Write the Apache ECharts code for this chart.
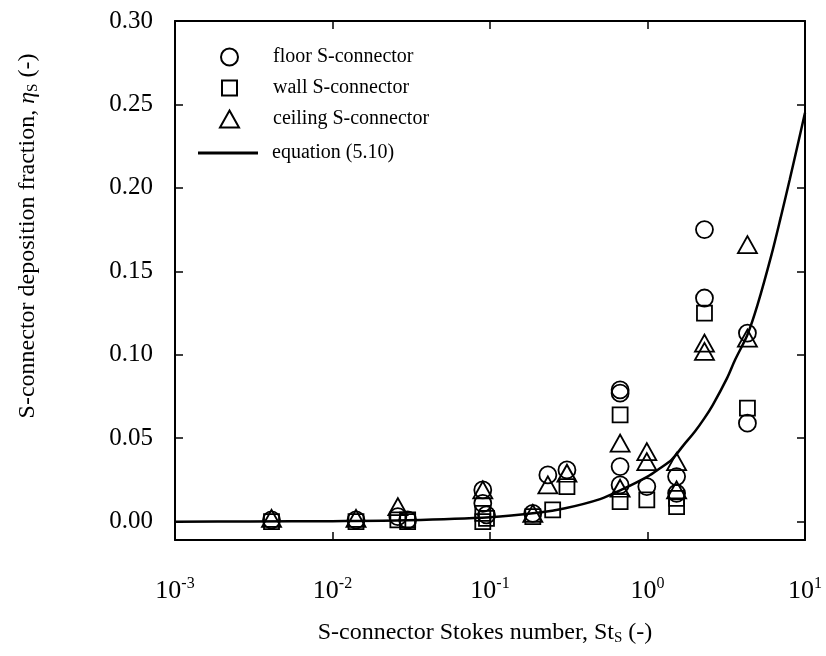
<!DOCTYPE html>
<html>
<head>
<meta charset="utf-8">
<script src="https://cdn.jsdelivr.net/npm/echarts@6/dist/echarts.min.js"></script>
<style>
html, body { margin: 0; padding: 0; background: #fff; }
#chart { width: 826px; height: 656px; }
</style>
</head>
<body>
<div id="chart"></div>
<script>
// values
var floorSt   = [0.0041, 0.0141, 0.026, 0.030, 0.090, 0.090, 0.095, 0.187, 0.233, 0.308, 0.67, 0.67, 0.67, 0.67, 0.99, 1.53, 1.53, 2.30, 2.30, 4.31, 4.31];
var floorEta  = [0.001, 0.001, 0.003, 0.001, 0.019, 0.011, 0.004, 0.005, 0.028, 0.031, 0.079, 0.077, 0.033, 0.022, 0.021, 0.027, 0.017, 0.175, 0.134, 0.113, 0.059];

var wallSt    = [0.0041, 0.0141, 0.026, 0.030, 0.030, 0.090, 0.090, 0.095, 0.187, 0.25, 0.308, 0.67, 0.67, 0.99, 1.53, 1.53, 2.30, 4.31];
var wallEta   = [0.000, 0.000, 0.001, 0.000, 0.001, 0.005, 0.000, 0.002, 0.003, 0.007, 0.021, 0.064, 0.012, 0.013, 0.014, 0.009, 0.125, 0.068];

var ceilSt    = [0.0041, 0.0141, 0.026, 0.090, 0.187, 0.233, 0.308, 0.67, 0.67, 0.99, 0.99, 1.53, 1.53, 2.30, 2.30, 4.31, 4.31];
var ceilEta   = [0.002, 0.002, 0.009, 0.019, 0.005, 0.022, 0.029, 0.047, 0.020, 0.042, 0.036, 0.036, 0.019, 0.107, 0.102, 0.166, 0.110];

// equation (5.10), points
var eqSt      = [0.001, 0.003, 0.01, 0.03, 0.1, 0.2, 0.3, 0.5, 0.68, 1.0, 1.2, 1.42, 1.7, 2.0, 2.3, 2.6, 3.2, 3.6, 4.31, 5.0, 6.13, 7.0, 8.0, 9.0, 10];
var eqEta     = [0.0, 0.0001, 0.0003, 0.0008, 0.0026, 0.0053, 0.008, 0.0135, 0.019, 0.027, 0.032, 0.037, 0.046, 0.054, 0.062, 0.070, 0.086, 0.097, 0.112, 0.130, 0.160, 0.182, 0.205, 0.226, 0.245];

var yTicks = [0, 0.05, 0.10, 0.15, 0.20, 0.25, 0.30];
var seriesNames = ['floor S-connector', 'wall S-connector', 'ceiling S-connector', 'equation (5.10)'];

var FONT = '"Liberation Serif", "DejaVu Serif", serif';

function zip(a, b) {
    var out = [];
    for (var i = 0; i < a.length; i++) out.push([a[i], b[i]]);
    return out;
}

// one legend per entry so each icon keeps its own size
function legendItem(name, icon, left, top, w, h, pad) {
    return {
        orient: 'vertical',
        left: left,
        top: top,
        padding: 0,
        itemWidth: w,
        itemHeight: h,
        selectedMode: false,
        textStyle: { fontFamily: FONT, fontSize: 20, color: '#000', padding: [0, 0, 0, pad] },
        data: [{ name: name, icon: icon }]
    };
}

var hollow = { color: 'rgba(0,0,0,0)', borderColor: '#000', borderWidth: 1.8, opacity: 1 };

var chart = echarts.init(document.getElementById('chart'));

var option = {
    backgroundColor: '#fff',
    animation: false,
    grid: { left: 175, right: 21, top: 21, bottom: 116 },
    legend: [
        legendItem(seriesNames[0], 'circle', 220, 47, 17, 17, 30),
        legendItem(seriesNames[1], 'rect', 221, 78, 15, 15, 31),
        legendItem(seriesNames[2], 'triangle', 219, 109, 19, 17, 29),
        legendItem(seriesNames[3], 'rect', 198, 143, 60, 3, 9)
    ],
    xAxis: [{
        type: 'log',
        logBase: 10,
        min: 0.001,
        max: 10,
        axisLine: { onZero: false, lineStyle: { color: '#000', width: 2 } },
        axisTick: { inside: true, length: 8, lineStyle: { color: '#000', width: 1.5 } },
        minorTick: { show: false },
        splitLine: { show: false },
        axisLabel: {
            margin: 36,
            formatter: function (v) {
                var e = Math.round(Math.log(v) / Math.LN10);
                return '{b|10}{s|' + e + '}';
            },
            rich: {
                b: { fontFamily: FONT, fontSize: 26, color: '#000' },
                s: { fontFamily: FONT, fontSize: 16, color: '#000', padding: [0, 0, 14, 0] }
            }
        }
    }, {
        type: 'log',
        logBase: 10,
        min: 0.001,
        max: 10,
        position: 'top',
        axisLine: { onZero: false, lineStyle: { color: '#000', width: 2 } },
        axisTick: { inside: true, length: 8, lineStyle: { color: '#000', width: 1.5 } },
        axisLabel: { show: false },
        splitLine: { show: false }
    }],
    yAxis: [{
        type: 'value',
        min: -0.011,
        max: 0.30,
        axisLine: { onZero: false, lineStyle: { color: '#000', width: 2 } },
        axisTick: { inside: true, length: 8, customValues: yTicks, lineStyle: { color: '#000', width: 1.5 } },
        splitLine: { show: false },
        axisLabel: {
            margin: 22,
            customValues: yTicks,
            fontFamily: FONT,
            fontSize: 25,
            color: '#000',
            formatter: function (v) { return v.toFixed(2); }
        }
    }, {
        type: 'value',
        min: -0.011,
        max: 0.30,
        position: 'right',
        axisLine: { onZero: false, lineStyle: { color: '#000', width: 2 } },
        axisTick: { inside: true, length: 8, customValues: yTicks, lineStyle: { color: '#000', width: 1.5 } },
        axisLabel: { show: false },
        splitLine: { show: false }
    }],
    graphic: [{
        type: 'text',
        x: 28,
        y: 236,
        rotation: Math.PI / 2,
        style: {
            text: 'S-connector deposition fraction, {i|η}{sub|S} (-)',
            fontFamily: FONT,
            fontSize: 24,
            fill: '#000',
            align: 'center',
            verticalAlign: 'middle',
            rich: {
                i: { fontFamily: FONT, fontSize: 24, fontStyle: 'italic', fill: '#000' },
                sub: { fontFamily: FONT, fontSize: 15, fill: '#000', padding: [10, 0, 0, 0] }
            }
        }
    }, {
        type: 'text',
        x: 485,
        y: 633,
        style: {
            text: 'S-connector Stokes number, St{sub|S} (-)',
            fontFamily: FONT,
            fontSize: 24,
            fill: '#000',
            align: 'center',
            verticalAlign: 'middle',
            rich: {
                sub: { fontFamily: FONT, fontSize: 15, fill: '#000', padding: [10, 0, 0, 0] }
            }
        }
    }],
    series: [{
        name: seriesNames[0],
        type: 'scatter',
        symbol: 'circle',
        symbolSize: 17,
        itemStyle: hollow,
        data: zip(floorSt, floorEta),
        z: 3
    }, {
        name: seriesNames[1],
        type: 'scatter',
        symbol: 'rect',
        symbolSize: 15,
        itemStyle: hollow,
        data: zip(wallSt, wallEta),
        z: 3
    }, {
        name: seriesNames[2],
        type: 'scatter',
        symbol: 'triangle',
        symbolSize: [19, 17],
        itemStyle: hollow,
        data: zip(ceilSt, ceilEta),
        z: 3
    }, {
        name: seriesNames[3],
        type: 'line',
        smooth: 0.3,
        symbol: 'none',
        lineStyle: { color: '#000', width: 2.5 },
        itemStyle: { color: '#000' },
        data: zip(eqSt, eqEta),
        z: 2
    }]
};

chart.setOption(option);
</script>
</body>
</html>
